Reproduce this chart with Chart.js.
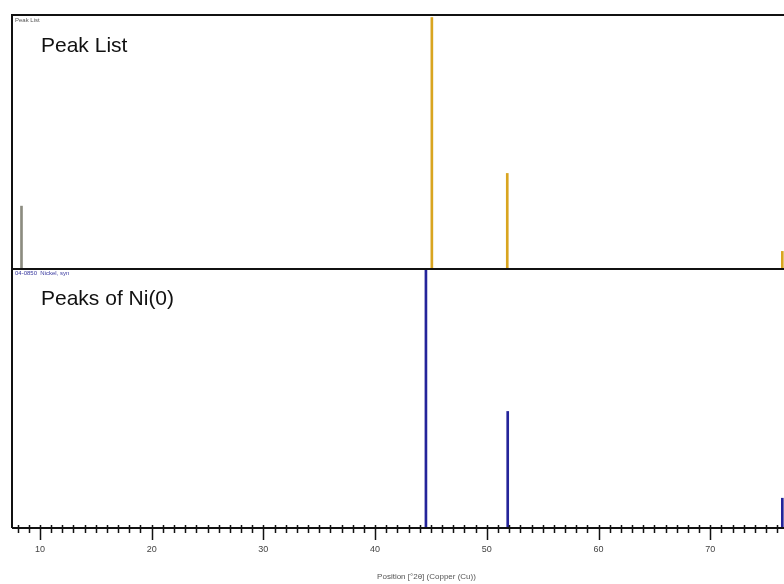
<!DOCTYPE html>
<html>
<head>
<meta charset="utf-8">
<script src="https://cdn.jsdelivr.net/npm/chart.js@4.4.0/dist/chart.umd.min.js"></script>
<style>
  html, body { margin: 0; padding: 0; background: #fff; }
  #wrap { width: 784px; height: 584px; }
</style>
</head>
<body>
<div id="wrap"><canvas id="xrd" width="784" height="584"></canvas></div>
<script>
// peak positions (deg 2theta) and relative heights
const peakListPos = [8.35, 45.08, 51.83, 76.45];
const peakListInt = [0.25, 1.0, 0.38, 0.07];
const peakListCol = ['#8c8c80', '#d9a520', '#d9a520', '#d9a520'];

const niPos = [44.55, 51.87, 76.45];
const niInt = [1.0, 0.45, 0.115];

const xTickLabels = [10, 20, 30, 40, 50, 60, 70];

const xMin = 7.5, xMax = 76.6;

const panelText = {
  id: 'panelText',
  afterDraw(chart) {
    const ctx = chart.ctx;
    const x = chart.scales.x;
    const yT = chart.scales.yTop;
    const yB = chart.scales.yBot;
    const a = chart.chartArea;
    ctx.save();
    // frames
    ctx.strokeStyle = '#111';
    ctx.lineWidth = 2;
    ctx.beginPath();
    ctx.moveTo(a.left, a.bottom);
    ctx.lineTo(a.left, a.top);
    ctx.lineTo(a.right + 2, a.top);
    ctx.moveTo(a.left, yT.bottom);
    ctx.lineTo(a.right + 2, yT.bottom);
    ctx.moveTo(a.left, a.bottom);
    ctx.lineTo(a.right + 2, a.bottom);
    ctx.stroke();

    // ticks: minor every degree, major every 10
    ctx.lineWidth = 1.5;
    ctx.beginPath();
    for (let v = Math.ceil(xMin); v <= xMax; v++) {
      const px = Math.round(x.getPixelForValue(v)) + 0.5;
      ctx.moveTo(px, a.bottom - 3);
      ctx.lineTo(px, a.bottom + (v % 10 === 0 ? 12 : 5));
    }
    ctx.stroke();

    // panel labels
    ctx.fillStyle = '#111';
    ctx.font = '21px "Liberation Sans", Arial, sans-serif';
    ctx.textBaseline = 'alphabetic';
    ctx.fillText('Peak List', a.left + 29, yT.top + 37);
    ctx.fillText('Peaks of Ni(0)', a.left + 29, yB.top + 36);

    // tiny panel headers
    ctx.font = '6px "Liberation Sans", Arial, sans-serif';
    ctx.fillStyle = '#555';
    ctx.fillText('Peak List', a.left + 3, yT.top + 7);
    ctx.fillStyle = '#3a3aa0';
    ctx.fillText('04-0850  Nickel, syn', a.left + 3, yB.top + 6);

    // axis title
    ctx.font = '8px "Liberation Sans", Arial, sans-serif';
    ctx.fillStyle = '#555';
    ctx.textAlign = 'center';
    ctx.textBaseline = 'middle';
    ctx.fillText('Position [°2θ] (Copper (Cu))', x.getPixelForValue(44.6), 577);
    ctx.restore();
  }
};

new Chart(document.getElementById('xrd'), {
  type: 'bar',
  data: {
    datasets: [{
      label: 'Peak List',
      data: peakListPos.map((p, i) => ({ x: p, y: peakListInt[i] })),
      backgroundColor: peakListCol,
      yAxisID: 'yTop',
      barThickness: 2
    }, {
      label: 'Ni(0)',
      data: niPos.map((p, i) => ({ x: p, y: niInt[i] })),
      backgroundColor: '#24249a',
      yAxisID: 'yBot',
      barThickness: 2
    }]
  },
  options: {
    responsive: false,
    animation: false,
    grouped: false,
    layout: { padding: { top: 15, left: 12, right: 0, bottom: 0 } },
    plugins: { legend: { display: false }, tooltip: { enabled: false } },
    scales: {
      x: {
        type: 'linear',
        min: xMin,
        max: xMax,
        offset: false,
        grid: { display: false, drawTicks: false },
        border: { display: false },
        afterFit: s => { s.height = 56; },
        ticks: {
          stepSize: 10,
          includeBounds: false,
          autoSkip: false,
          maxRotation: 0,
          padding: 16,
          color: '#444',
          font: { family: '"Liberation Sans", Arial, sans-serif', size: 9 },
          callback: v => xTickLabels.includes(v) ? String(v) : ''
        }
      },
      // left-stacked axes are laid out bottom-up, so the lower panel comes first
      yBot: {
        type: 'linear',
        position: 'left',
        stack: 'panels',
        stackWeight: 259,
        min: 0,
        max: 1.0,
        grid: { display: false, drawTicks: false },
        border: { display: false },
        ticks: { display: false },
        afterFit: s => { s.width = 0; }
      },
      yTop: {
        type: 'linear',
        position: 'left',
        stack: 'panels',
        stackWeight: 254,
        min: 0,
        max: 1.01,
        grid: { display: false, drawTicks: false },
        border: { display: false },
        ticks: { display: false },
        afterFit: s => { s.width = 0; }
      }
    }
  },
  plugins: [panelText]
});
</script>
</body>
</html>
